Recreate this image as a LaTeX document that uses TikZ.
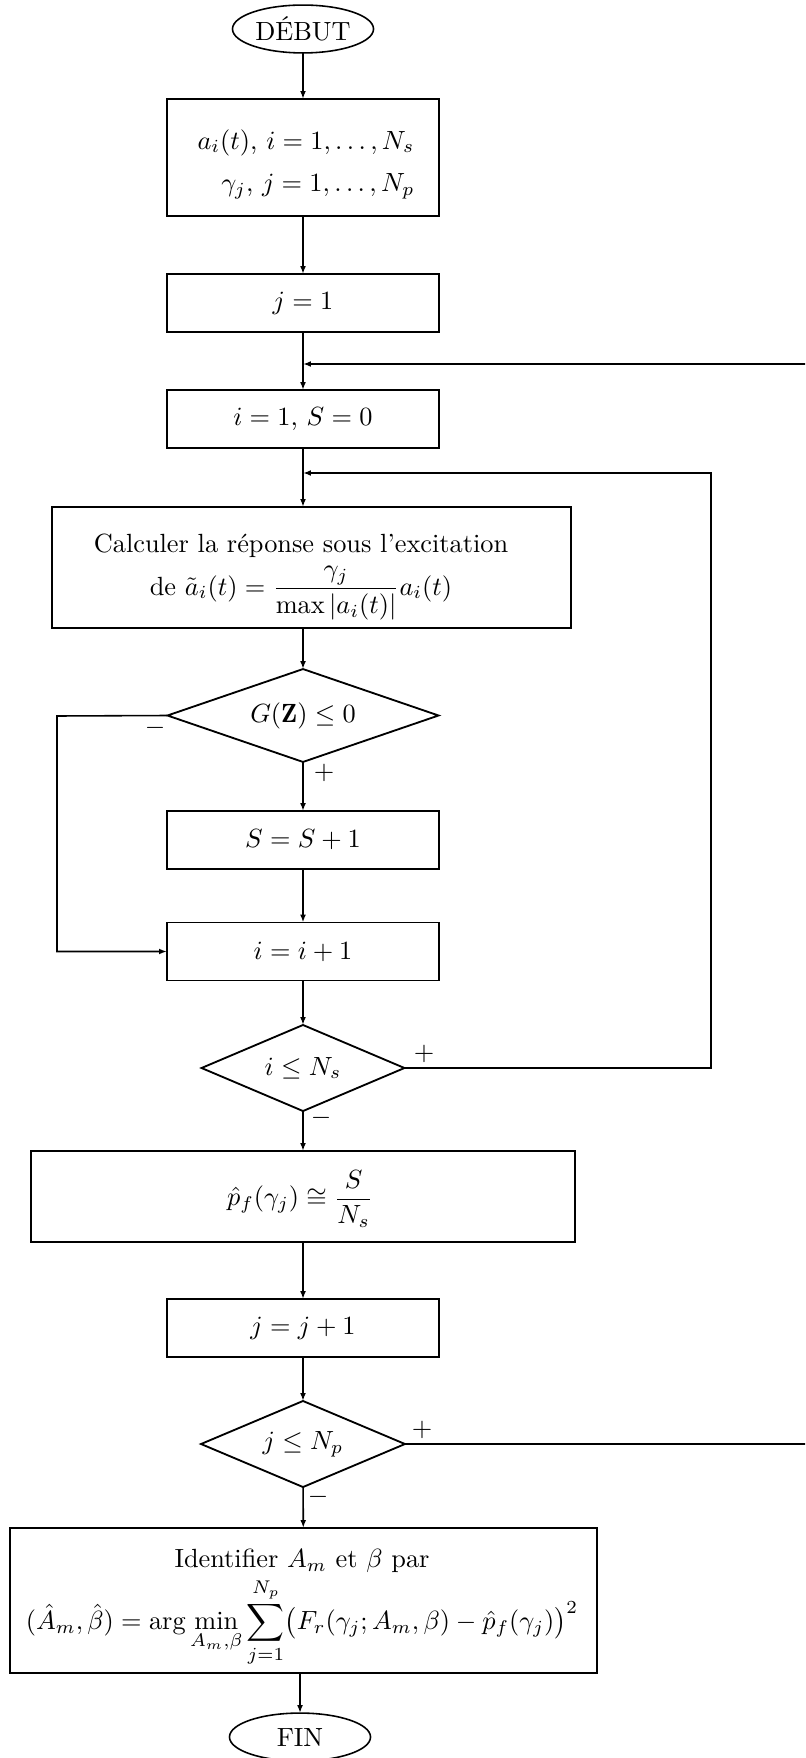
\documentclass[tikz,border=0pt]{standalone}
\usepackage{amsmath}
\usepackage{fontspec}
\usetikzlibrary{shapes.geometric,arrows.meta}
\begin{document}
\begin{tikzpicture}[x=0.38pt,y=-0.38pt,
  every node/.style={inner sep=0pt, outer sep=0pt},
  box/.style={draw, line width=0.7pt, rectangle, minimum width=103.4pt, minimum height=22pt},
  cond/.style={draw, line width=0.7pt, diamond, aspect=2},
  term/.style={draw, line width=0.6pt, ellipse, minimum width=53.6pt, minimum height=18.2pt},
  arr/.style={line width=0.6pt, -{Latex[length=3pt,width=2.2pt]}},
  lin/.style={line width=0.7pt}
]
\useasboundingbox (0,0) rectangle (805,1758);
\clip (0,0) rectangle (805,1758);

\node[term] (debut) at (303,29) {DÉBUT};
\node[box, minimum height=44.5pt] (init) at (303,157.5) {};
\node[align=right] (inittext) at (306,164)
  {$a_i(t)$, $i=1,\ldots,N_s$\\[4pt] $\gamma_j$, $j=1,\ldots,N_p$};
\node[box] (j1) at (303,303) {$j=1$};
\node[box] (i1) at (303,419) {$i=1$, $S=0$};
\node[box, minimum width=197.2pt, minimum height=46pt] (calc) at (311.5,567.5) {};
\node[align=center] (calctext) at (301,577)
  {Calculer la réponse sous l’excitation\\[2pt]
   de $\tilde a_i(t)=\dfrac{\gamma_j}{\max|a_i(t)|}a_i(t)$};
\node[cond, minimum width=103pt, minimum height=35.3pt] (g) at (303,715.5) {$G(\mathbf{Z})\leq 0$};
\node[box] (s) at (303,840) {$S=S+1$};
\node[box] (ii) at (303,951.5) {$i=i+1$};
\node[cond, minimum width=77.1pt, minimum height=32.7pt] (ins) at (303,1068) {$i\leq N_s$};
\node[box, minimum width=206.7pt, minimum height=34.6pt] (pf) at (303,1196.5) {};
\node (pftext) at (300,1199) {$\hat p_f(\gamma_j)\cong\dfrac{S}{N_s}$};
\node[box] (jj) at (303,1328) {$j=j+1$};
\node[cond, minimum width=77.5pt, minimum height=32.7pt] (jnp) at (303,1444) {$j\leq N_p$};
\node[box, minimum width=223pt, minimum height=55.1pt] (ident) at (303.5,1600.5) {};
\node[align=center] (identtext) at (302,1608)
  {Identifier $A_m$ et $\beta$ par\\[1pt]
   $\displaystyle (\hat{A}_m,\hat{\beta})=\arg\min_{A_m,\beta}\sum_{j=1}^{N_p}\bigl(F_r(\gamma_j;A_m,\beta)-\hat{p}_f(\gamma_j)\bigr)^2$};
\node[term] (fin) at (300,1737) {FIN};

\coordinate (outerR) at (840,364);
\coordinate (innerR) at (711,473);
\coordinate (leftL) at (57,716);

\draw[arr] (debut) -- (init);
\draw[arr] (init) -- (j1);
\draw[arr] (j1) -- (i1);
\draw[arr] (i1) -- (i1 |- calc.north);
\draw[arr] (calc.south -| g) -- (g);
\draw[arr] (g) -- (s);
\draw[arr] (s) -- (ii);
\draw[arr] (ii) -- (ins);
\draw[arr] (ins) -- (pf);
\draw[arr] (pf) -- (jj);
\draw[arr] (jj) -- (jnp);
\draw[arr] (jnp) -- (ident);
\draw[arr] (ident.south -| fin) -- (fin);

\draw[arr] (g.west) -- (leftL) |- (ii.west);
\draw[arr] (ins.east) -| (innerR) -- (innerR -| i1);
\draw[arr] (jnp.east) -| (outerR) -- (outerR -| i1);

\node (mG) at (155,728) {$-$};
\node (pG) at (324,773) {$+$};
\node (pI) at (424,1054) {$+$};
\node (mI) at (321,1118) {$-$};
\node (pJ) at (422,1430) {$+$};
\node (mJ) at (318,1497) {$-$};
\end{tikzpicture}
\end{document}
